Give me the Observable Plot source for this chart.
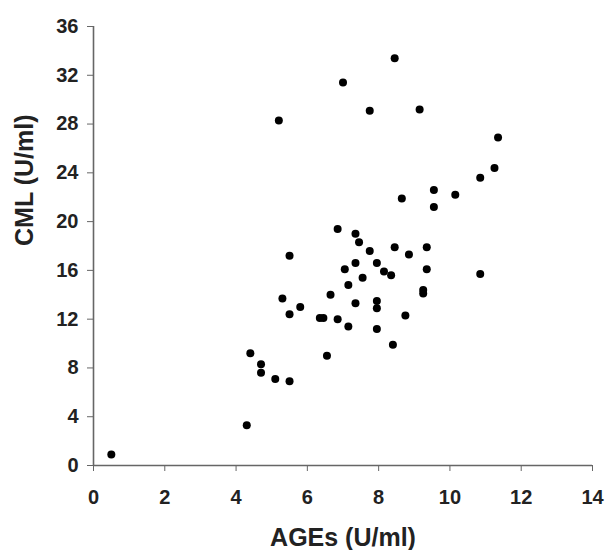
<!DOCTYPE html>
<html>
<head>
<meta charset="utf-8">
<script src="https://cdn.jsdelivr.net/npm/d3@7"></script>
<script src="https://cdn.jsdelivr.net/npm/@observablehq/plot@0.6"></script>
<style>
  html, body { margin: 0; padding: 0; background: #fff; }
</style>
</head>
<body>
<div id="chart"></div>
<script>
const ages = [0.5, 4.3, 4.4, 4.7, 4.7, 5.1, 5.5, 5.2, 5.3, 5.5, 5.5, 5.8, 6.35, 6.45, 6.55, 6.65, 6.85, 6.85, 7.0, 7.05, 7.15, 7.15, 7.35, 7.35, 7.35, 7.45, 7.55, 7.75, 7.75, 7.95, 7.95, 7.95, 7.95, 8.15, 8.35, 8.45, 8.45, 8.4, 8.65, 8.75, 8.85, 9.15, 9.25, 9.25, 9.35, 9.35, 9.55, 9.55, 10.15, 10.85, 10.85, 11.25, 11.35];
const cml = [0.9, 3.3, 9.2, 8.3, 7.6, 7.1, 6.9, 28.3, 13.7, 17.2, 12.4, 13.0, 12.1, 12.1, 9.0, 14.0, 19.4, 12.0, 31.4, 16.1, 14.8, 11.4, 19.0, 16.6, 13.3, 18.3, 15.4, 29.1, 17.6, 16.6, 13.5, 12.9, 11.2, 15.9, 15.6, 33.4, 17.9, 9.9, 21.9, 12.3, 17.3, 29.2, 14.1, 14.4, 17.9, 16.1, 22.6, 21.2, 22.2, 23.6, 15.7, 24.4, 26.9];
const xTicks = [0, 2, 4, 6, 8, 10, 12, 14];
const yTicks = [0, 4, 8, 12, 16, 20, 24, 28, 32, 36];
const xTitle = "AGEs (U/ml)";
const yTitle = "CML (U/ml)";

const data = ages.map((a, i) => ({ages: a, cml: cml[i]}));

const chart = Plot.plot({
  width: 606,
  height: 550,
  marginLeft: 93,
  marginRight: 14,
  marginTop: 26,
  marginBottom: 85,
  style: {fontFamily: "Liberation Sans, Arial, sans-serif", fontWeight: "bold", fontSize: "20px", background: "#fff", color: "#222"},
  x: {domain: [0, 14]},
  y: {domain: [0, 36]},
  marks: [
    Plot.axisX({ticks: xTicks, tickSize: 6, tickPadding: 18, label: null, stroke: "#666", fill: "#222", fontSize: 20, fontWeight: "bold"}),
    Plot.axisY({ticks: yTicks, tickSize: 6, tickPadding: 9, label: null, stroke: "#666", fill: "#222", fontSize: 20, fontWeight: "bold"}),
    Plot.ruleY([0], {stroke: "#666", strokeWidth: 1.6}),
    Plot.ruleX([0], {stroke: "#666", strokeWidth: 1.6}),
    Plot.dot(data, {x: "ages", y: "cml", r: 4, fill: "#000", stroke: "none"}),
    Plot.text([xTitle], {frameAnchor: "bottom", dy: 80, lineAnchor: "bottom", fontSize: 25, fontWeight: "bold", fill: "#222"}),
    Plot.text([yTitle], {frameAnchor: "left", dx: -69, rotate: -90, lineAnchor: "middle", fontSize: 25, fontWeight: "bold", fill: "#222"})
  ]
});
document.getElementById("chart").appendChild(chart);
</script>
</body>
</html>
